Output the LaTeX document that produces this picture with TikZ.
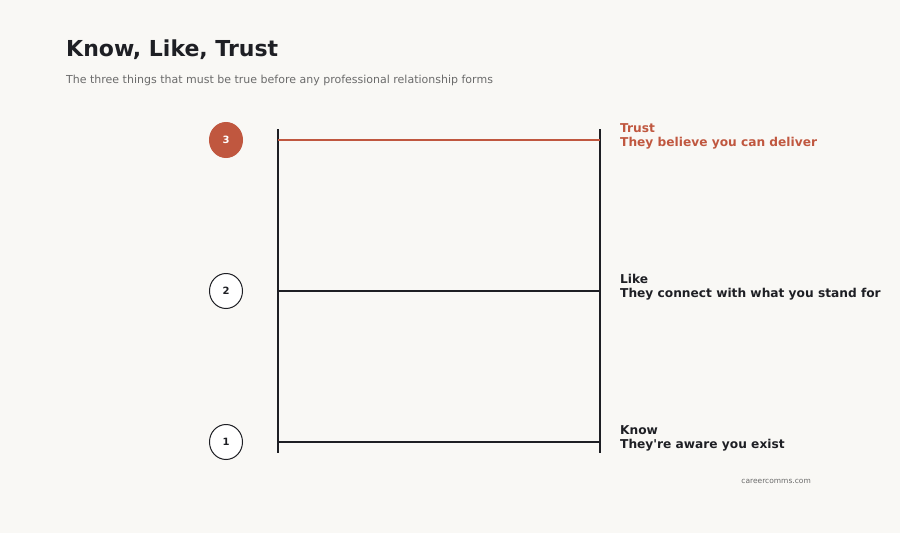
\documentclass[tikz,border=0pt]{standalone}
\usepackage{fontspec}
\setmainfont{DejaVu Sans}
\usetikzlibrary{shapes.geometric}
\begin{document}
\begin{tikzpicture}[x=1pt,y=-1pt,
  rail/.style={line width=1.5pt,draw=ink},
  rung/.style={line width=1.5pt,draw=ink},
  badge/.style={ellipse,draw=ink,line width=1pt,fill=white,minimum width=33pt,minimum height=35pt,inner sep=0pt,font=\fontsize{10}{11}\selectfont\bfseries,text=ink},
  lab/.style={anchor=north west,align=left,font=\fontsize{12.2}{14}\selectfont\bfseries,text=ink,inner sep=0pt}]
\definecolor{ink}{HTML}{1E1F24}
\definecolor{bg}{HTML}{F9F8F5}
\definecolor{accent}{HTML}{C0573F}
\definecolor{sub}{HTML}{6B6B6B}
\fill[bg] (0,0) rectangle (900,533);
\useasboundingbox (0,0) rectangle (900,533);
\node[anchor=base west,inner sep=0pt,font=\fontsize{22}{25}\selectfont\bfseries,text=ink] (title) at (66,56) {Know, Like, Trust};
\node[anchor=base west,inner sep=0pt,font=\fontsize{11}{13}\selectfont,text=sub] (subt) at (66,83) {The three things that must be true before any professional relationship forms};
\coordinate (lt) at (278,129); \coordinate (lb) at (278,453);
\coordinate (rt) at (600,129); \coordinate (rb) at (600,453);
\draw[rail] (lt) -- (lb);
\draw[rail] (rt) -- (rb);
\coordinate (a3) at (278,140); \coordinate (b3) at (600,140);
\coordinate (a2) at (278,291); \coordinate (b2) at (600,291);
\coordinate (a1) at (278,442); \coordinate (b1) at (600,442);
\draw[rung,draw=accent,line width=2.2pt] (a3) -- (b3);
\draw[rung] (a2) -- (b2);
\draw[rung] (a1) -- (b1);
\node[badge,fill=accent,draw=accent,text=white] (c3) at (226,140) {3};
\node[badge] (c2) at (226,291) {2};
\node[badge] (c1) at (226,442) {1};
\node[lab,text=accent] (t3) at (620,123) {Trust\\They believe you can deliver};
\node[lab] (t2) at (620,274) {Like\\They connect with what you stand for};
\node[lab] (t1) at (620,425) {Know\\They\textquotesingle re aware you exist};
\node[anchor=base east,inner sep=0pt,font=\fontsize{7.5}{9}\selectfont,text=sub] (foot) at (811,483) {careercomms.com};
\end{tikzpicture}
\end{document}
